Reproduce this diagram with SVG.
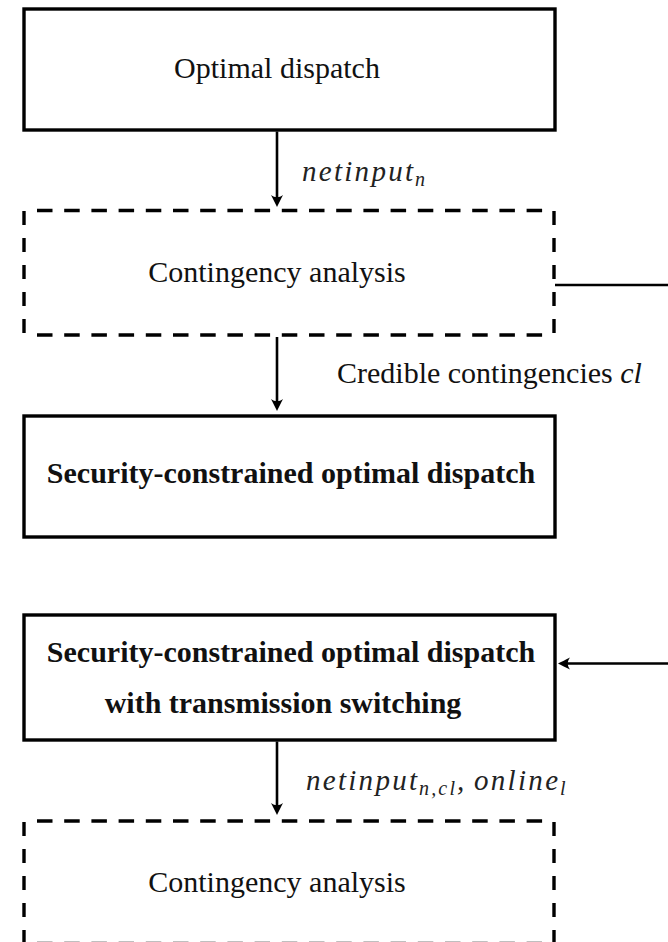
<svg xmlns="http://www.w3.org/2000/svg" width="668" height="942" viewBox="0 0 668 942">
  <style>
    .box { fill: #fff; stroke: #000; stroke-width: 3.4; }
    .dash { fill: none; stroke: #000; stroke-width: 3.4; }
    .conn { fill: none; stroke: #000; stroke-width: 2.6; }
    .t { font-family: "Liberation Serif", "Times New Roman", serif; font-size: 30px; fill: #111; }
    .b { font-weight: bold; }
    .m { font-family: "Liberation Serif", "Times New Roman", serif; font-style: italic; font-size: 29px; fill: #222; }
    .s { font-family: "Liberation Serif", "Times New Roman", serif; font-style: italic; font-size: 20px; fill: #222; }
  </style>
  <defs>
    <marker id="ah" viewBox="-14 -7 16 14" refX="-6" refY="0" markerWidth="16" markerHeight="14" markerUnits="userSpaceOnUse" orient="auto">
      <path d="M0,0 C-3,-1.5 -7,-3.5 -12,-6 C-9,-2 -9,2 -12,6 C-7,3.5 -3,1.5 0,0 Z" fill="#000"/>
    </marker>
  </defs>

  <rect width="668" height="942" fill="#fff"/>

  <g id="connectors">
    <path class="conn" d="M277,131.5 V201" marker-end="url(#ah)"/>
    <path class="conn" d="M277,337 V405" marker-end="url(#ah)"/>
    <path class="conn" d="M277,741.5 V809" marker-end="url(#ah)"/>
    <path class="conn" d="M555,285 H700 V663.5 H564" marker-end="url(#ah)"/>
  </g>

  <g id="labels">
    <text x="302" y="181" class="m" textLength="111" lengthAdjust="spacing">netinput</text>
    <text x="415" y="186" class="s">n</text>
    <text x="337" y="383" class="t" font-size="29">Credible contingencies <tspan font-style="italic">cl</tspan></text>
    <text x="306" y="790" class="m" textLength="111" lengthAdjust="spacing">netinput</text>
    <text x="419" y="795" class="s" textLength="36" lengthAdjust="spacing">n,cl</text>
    <text x="457" y="790" class="m">,</text>
    <text x="474" y="790" class="m" textLength="84" lengthAdjust="spacing">online</text>
    <text x="560" y="795" class="s">l</text>
  </g>

  <g id="node-optimal-dispatch">
    <rect class="box" x="24" y="9" width="531" height="121"/>
    <text x="277" y="78" class="t" text-anchor="middle">Optimal dispatch</text>
  </g>

  <g id="node-contingency-analysis-1">
    <line class="dash" x1="37" y1="210.5" x2="543" y2="210.5" stroke-dasharray="15.5 11.7"/>
    <line class="dash" x1="37" y1="335" x2="543" y2="335" stroke-dasharray="15.5 11.7"/>
    <line class="dash" x1="24" y1="211" x2="24" y2="335" stroke-dasharray="14 13"/>
    <line class="dash" x1="554" y1="211" x2="554" y2="335" stroke-dasharray="14 13"/>
    <text x="277" y="282" class="t" text-anchor="middle">Contingency analysis</text>
  </g>

  <g id="node-scopf">
    <rect class="box" x="24" y="416" width="531" height="121"/>
    <text x="291" y="483" class="t b" text-anchor="middle">Security-constrained optimal dispatch</text>
  </g>

  <g id="node-scopf-ts">
    <rect class="box" x="24" y="615" width="531" height="125"/>
    <text x="291" y="662" class="t b" text-anchor="middle">Security-constrained optimal dispatch</text>
    <text x="283" y="713" class="t b" text-anchor="middle">with transmission switching</text>
  </g>

  <g id="node-contingency-analysis-2">
    <line class="dash" x1="37" y1="821" x2="543" y2="821" stroke-dasharray="15.5 11.7"/>
    <line class="dash" x1="37" y1="943.5" x2="543" y2="943.5" stroke-dasharray="15.5 11.7"/>
    <line class="dash" x1="24" y1="822" x2="24" y2="944" stroke-dasharray="14 13"/>
    <line class="dash" x1="554" y1="822" x2="554" y2="944" stroke-dasharray="14 13"/>
    <text x="277" y="892" class="t" text-anchor="middle">Contingency analysis</text>
  </g>
</svg>
